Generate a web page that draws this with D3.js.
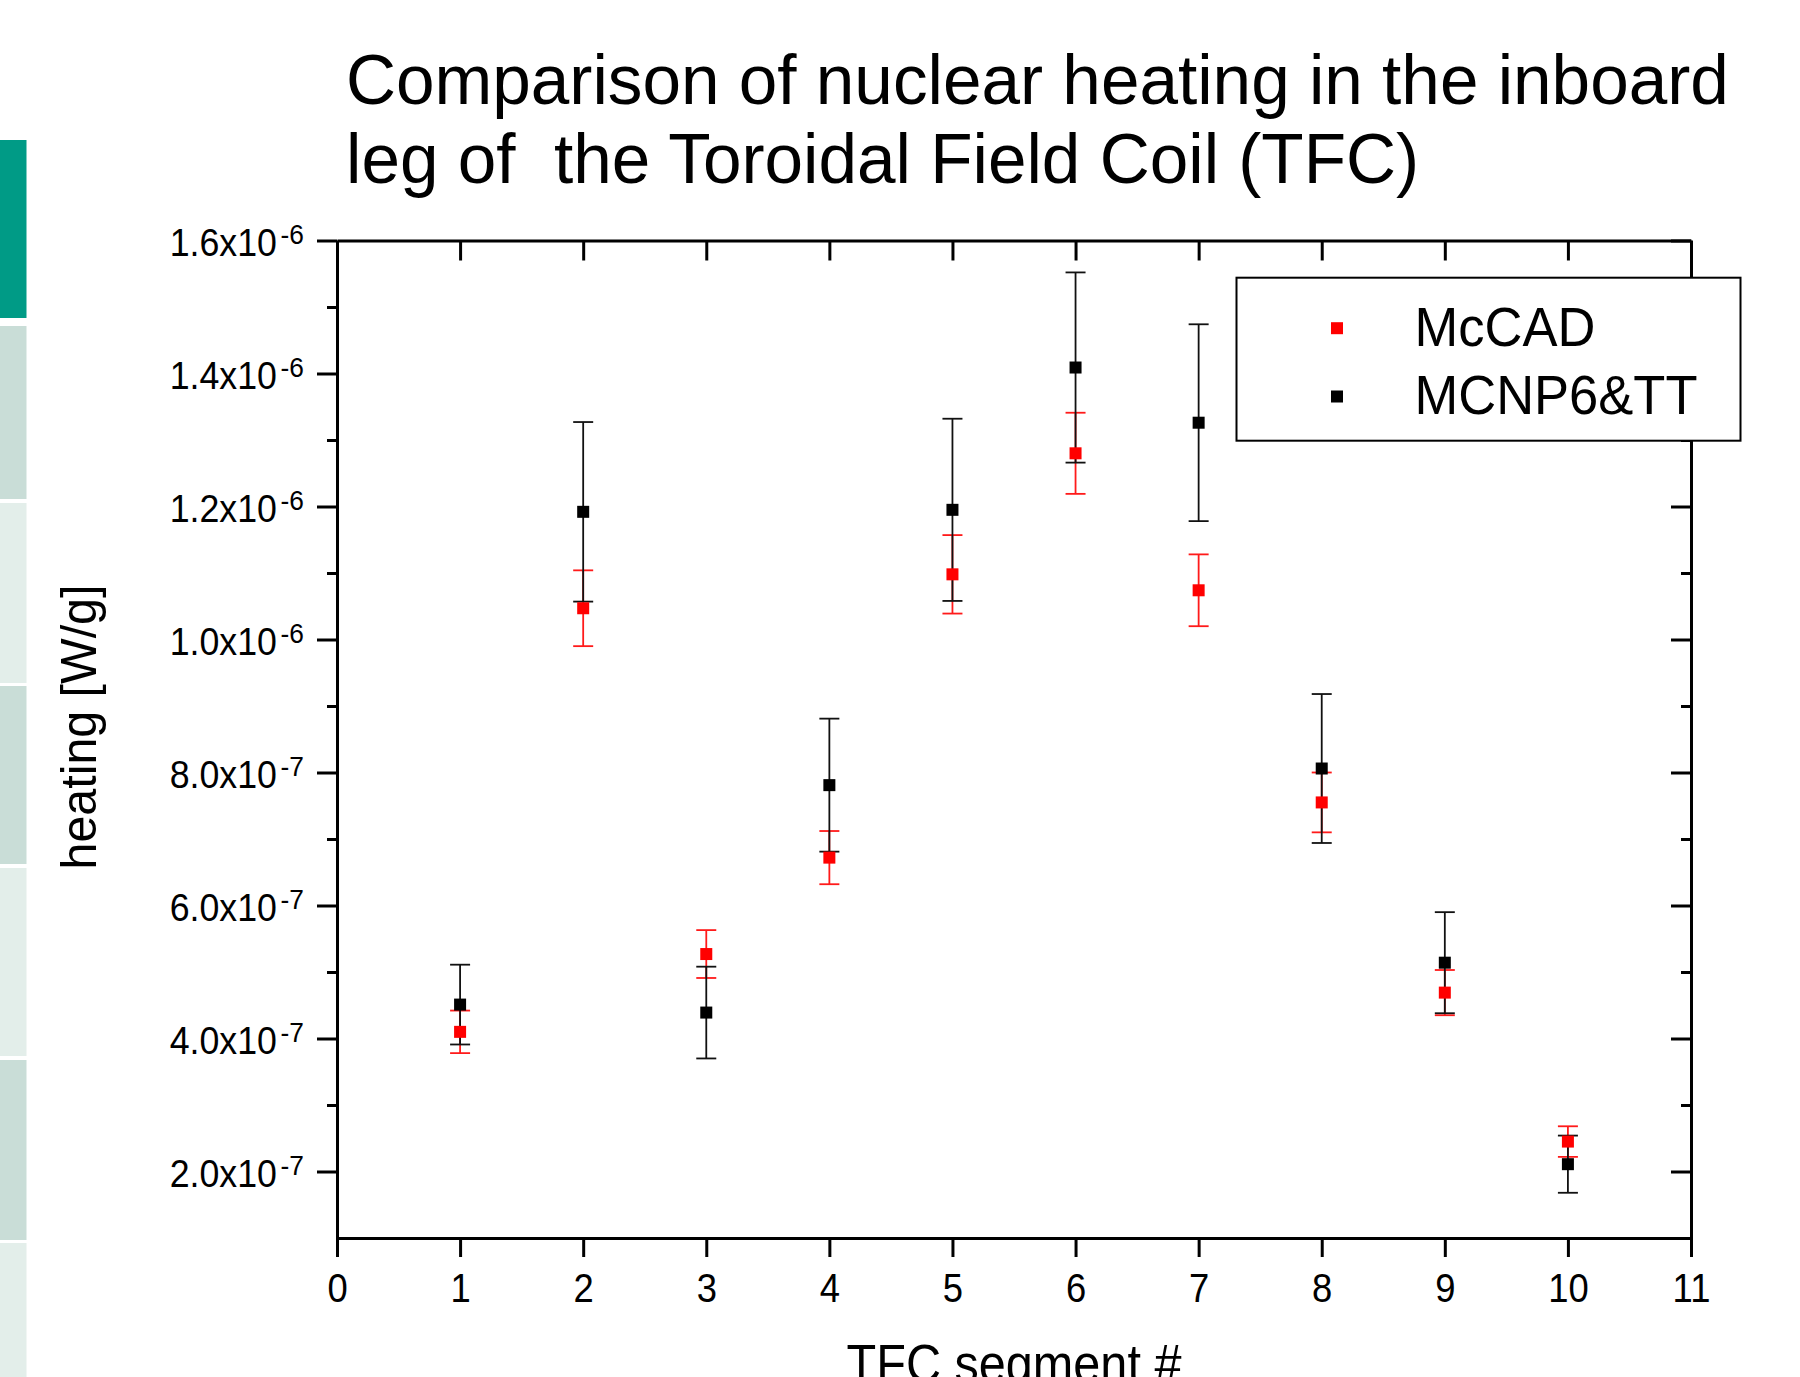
<!DOCTYPE html>
<html>
<head>
<meta charset="utf-8">
<script src="https://cdn.jsdelivr.net/npm/d3@7"></script>
<style>
body { margin: 0; background: #fff; }
svg { display: block; font-family: "Liberation Sans", Arial, sans-serif; }
</style>
</head>
<body>
<svg id="chart" width="1800" height="1377"></svg>
<script>
// segment numbers and heating values [W/g]
const segments = [1, 2, 3, 4, 5, 6, 7, 8, 9, 10];
const mccad    = [4.10e-7, 1.047e-6, 5.27e-7, 6.72e-7, 1.098e-6, 1.280e-6, 1.074e-6, 7.55e-7, 4.69e-7, 2.45e-7];
const mccadErr = [3.2e-8, 5.7e-8, 3.6e-8, 4.0e-8, 5.9e-8, 6.1e-8, 5.4e-8, 4.5e-8, 3.4e-8, 2.3e-8];
const mcnp     = [4.51e-7, 1.192e-6, 4.39e-7, 7.81e-7, 1.195e-6, 1.409e-6, 1.326e-6, 8.06e-7, 5.14e-7, 2.11e-7];
const mcnpErr  = [6.0e-8, 1.35e-7, 6.9e-8, 1.00e-7, 1.37e-7, 1.43e-7, 1.48e-7, 1.12e-7, 7.6e-8, 4.3e-8];

const seriesNames  = ['McCAD', 'MCNP6&TT'];
const seriesColors = ['#ff0000', '#000000'];
const barColors    = ['#ff1a1a', '#111111'];

const xTicks = [0, 1, 2, 3, 4, 5, 6, 7, 8, 9, 10, 11];
const yTicks = [2e-7, 4e-7, 6e-7, 8e-7, 1.0e-6, 1.2e-6, 1.4e-6, 1.6e-6];
const yMinorTicks = [3e-7, 5e-7, 7e-7, 9e-7, 1.1e-6, 1.3e-6, 1.5e-6];

const svg = d3.select('#chart');

// slide side strip
const strips = [
    [140, 318, '#009b86'], [326, 499, '#c9ddd7'], [503, 683, '#e3eeea'],
    [686, 864, '#c9ddd7'], [868, 1056, '#e3eeea'], [1060, 1240, '#c9ddd7'],
    [1243, 1377, '#e3eeea']
];
svg.selectAll('rect.strip')
    .data(strips)
    .enter()
    .append('rect')
    .attr('class', 'strip')
    .attr('x', 0)
    .attr('width', 26.5)
    .attr('y', d => d[0])
    .attr('height', d => d[1] - d[0])
    .attr('fill', d => d[2]);

// title
const title = svg.append('text')
    .attr('font-size', 70)
    .style('white-space', 'pre')
    .attr('transform', 'translate(346,0) scale(0.99,1)');
title.append('tspan').attr('x', 0).attr('y', 104.5).text('Comparison of nuclear heating in the inboard');
title.append('tspan').attr('x', 0).attr('y', 183).text('leg of  the Toroidal Field Coil (TFC)');

const x = d3.scaleLinear().domain([0, 11]).range([337, 1691]);
const y = d3.scaleLinear().domain([1e-7, 1.6e-6]).range([1238, 240.5]);

function styleAxis(g) {
    g.selectAll('path, line').attr('stroke', '#000').attr('stroke-width', 3);
}

// bottom axis with labels
const gBottom = svg.append('g')
    .attr('transform', `translate(0,${y.range()[0]})`)
    .call(d3.axisBottom(x).tickValues(xTicks).tickSize(19).tickSizeOuter(0).tickFormat(d3.format('d')))
    .call(styleAxis);
gBottom.selectAll('.tick text')
    .attr('y', null)
    .attr('dy', null)
    .attr('font-size', 40)
    .attr('fill', '#000')
    .attr('font-family', '"Liberation Sans", Arial, sans-serif')
    .attr('transform', 'translate(0,64) scale(0.91,1)');

// top axis, ticks inward
svg.append('g')
    .attr('transform', `translate(0,${y.range()[1]})`)
    .call(d3.axisBottom(x).tickValues(xTicks).tickSize(20).tickSizeOuter(0).tickFormat(''))
    .call(styleAxis);

// left axis with labels
const gLeft = svg.append('g')
    .attr('transform', `translate(${x.range()[0]},0)`)
    .call(d3.axisLeft(y).tickValues(yTicks).tickSize(20).tickSizeOuter(0).tickFormat(''))
    .call(styleAxis);
gLeft.append('g')
    .call(d3.axisLeft(y).tickValues(yMinorTicks).tickSize(10).tickFormat(''))
    .call(g => g.select('.domain').remove())
    .call(styleAxis);

gLeft.selectAll('.tick text').remove();
gLeft.selectAll('.tick')
    .filter(d => yTicks.includes(d))
    .append('text')
    .attr('text-anchor', 'end')
    .attr('fill', '#000')
    .attr('font-size', 38)
    .attr('transform', 'translate(-33,15) scale(0.94,1)')
    .each(function(v) {
        const e = Math.floor(Math.log10(v) + 1e-9);
        const m = v / Math.pow(10, e);
        const t = d3.select(this);
        t.append('tspan').text(m.toFixed(1) + 'x10');
        t.append('tspan').attr('font-size', 28).attr('dx', 4).attr('dy', -12).text(e);
    });

// right axis, ticks inward
const gRight = svg.append('g')
    .attr('transform', `translate(${x.range()[1]},0)`)
    .call(d3.axisLeft(y).tickValues(yTicks).tickSize(20).tickSizeOuter(0).tickFormat(''))
    .call(styleAxis);
gRight.append('g')
    .call(d3.axisLeft(y).tickValues(yMinorTicks).tickSize(10).tickFormat(''))
    .call(g => g.select('.domain').remove())
    .call(styleAxis);

// axis titles
svg.append('text')
    .attr('text-anchor', 'middle')
    .attr('font-size', 54)
    .attr('transform', `translate(${(x.range()[0] + x.range()[1]) / 2},1382) scale(0.9,1)`)
    .text('TFC segment #');

svg.append('text')
    .attr('text-anchor', 'middle')
    .attr('font-size', 50)
    .attr('transform', 'translate(96,727) rotate(-90) scale(0.967,1)')
    .text('heating [W/g]');

// series
const series = [
    {values: mccad, errors: mccadErr},
    {values: mcnp, errors: mcnpErr}
];

const capW = 20;
const marker = 12;

series.forEach((s, i) => {
    const g = svg.append('g').attr('class', 'bars');
    const rows = segments.map((seg, j) => ({seg: seg, v: s.values[j], e: s.errors[j]}));
    const bar = g.selectAll('g')
        .data(rows)
        .enter()
        .append('g')
        .attr('stroke', barColors[i])
        .attr('stroke-width', 1.8);
    bar.append('line')
        .attr('x1', d => x(d.seg)).attr('x2', d => x(d.seg))
        .attr('y1', d => y(d.v - d.e)).attr('y2', d => y(d.v + d.e));
    bar.append('line')
        .attr('x1', d => x(d.seg) - capW / 2).attr('x2', d => x(d.seg) + capW / 2)
        .attr('y1', d => y(d.v + d.e)).attr('y2', d => y(d.v + d.e));
    bar.append('line')
        .attr('x1', d => x(d.seg) - capW / 2).attr('x2', d => x(d.seg) + capW / 2)
        .attr('y1', d => y(d.v - d.e)).attr('y2', d => y(d.v - d.e));
});

series.forEach((s, i) => {
    svg.append('g')
        .selectAll('rect')
        .data(segments)
        .enter()
        .append('rect')
        .attr('x', (seg) => x(seg) - marker / 2)
        .attr('y', (seg, j) => y(s.values[j]) - marker / 2)
        .attr('width', marker)
        .attr('height', marker)
        .attr('fill', seriesColors[i]);
});

// legend
const legend = svg.append('g').attr('transform', 'translate(1236.5,277.7)');
legend.append('rect')
    .attr('width', 504)
    .attr('height', 163)
    .attr('fill', '#fff')
    .attr('stroke', '#000')
    .attr('stroke-width', 2);
seriesNames.forEach((name, i) => {
    legend.append('rect')
        .attr('x', 100.5 - marker / 2)
        .attr('y', 50.5 + i * 68.3 - marker / 2)
        .attr('width', marker)
        .attr('height', marker)
        .attr('fill', seriesColors[i]);
    legend.append('text')
        .attr('font-size', 55)
        .attr('transform', `translate(178,${68 + i * 68.3}) scale(0.955,1)`)
        .text(name);
});
</script>
</body>
</html>
